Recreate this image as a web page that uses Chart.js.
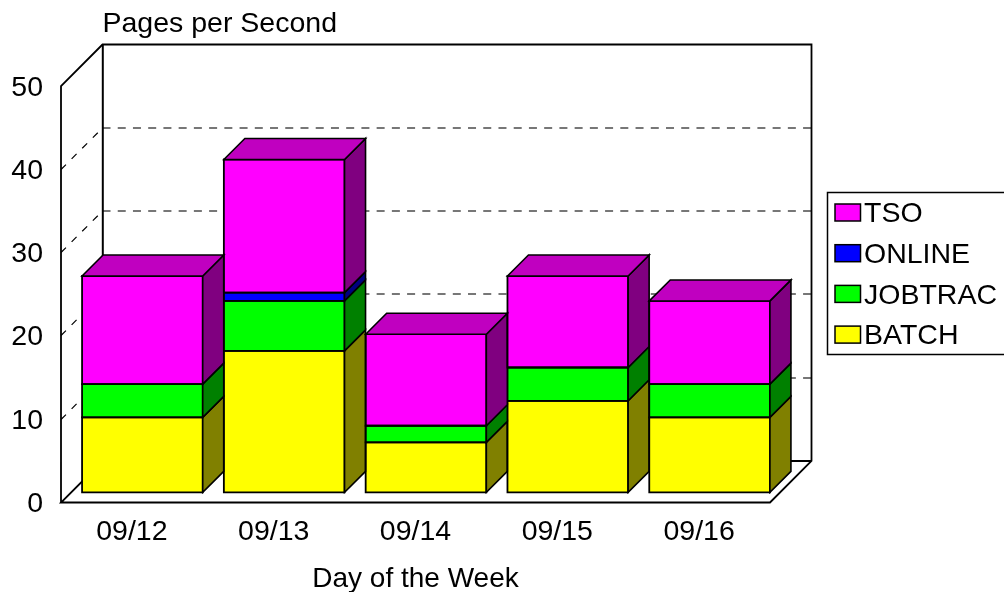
<!DOCTYPE html>
<html>
<head>
<meta charset="utf-8">
<style>html,body{margin:0;padding:0;background:#fff}canvas{display:block}</style>
<script src="https://cdn.jsdelivr.net/npm/chart.js@4/dist/chart.umd.min.js"></script>
</head>
<body>
<canvas id="c" width="1004" height="592"></canvas>
<script>
const categories = ['09/12','09/13','09/14','09/15','09/16'];
const batch   = [9,17,6,11,9];
const jobtrac = [4,6,2,4,4];
const online  = [0,1,0,0,0];
const tso     = [13,16,11,11,10];
const yTicks  = [0,10,20,30,40,50];
const FONT = '"Liberation Sans", Arial, sans-serif';
const FS = 28.5, DEPTH = 41.5, SHIFT = 10, BARD = 21;

const faces = {
  BATCH:{side:'#808000'}, JOBTRAC:{side:'#008000'}, ONLINE:{side:'#000080'}, TSO:{side:'#800080',top:'#c000c0'}
};
function poly(ctx, pts, fill, lw, dash, stroke, close){
  ctx.beginPath();
  pts.forEach((p,i)=> i?ctx.lineTo(p[0],p[1]):ctx.moveTo(p[0],p[1]));
  if(fill||close) ctx.closePath();
  if(fill){ctx.fillStyle=fill;ctx.fill();}
  ctx.lineWidth=lw; ctx.setLineDash(dash||[]); ctx.strokeStyle=stroke||'#000'; ctx.stroke(); ctx.setLineDash([]);
}
const box3d = {
  id:'box3d',
  beforeDatasetsDraw(chart){
    const {ctx,chartArea:a,scales:{y}} = chart;
    const b = a.bottom+0.5, l = a.left, r = a.right, t = a.top;
    ctx.save();
    yTicks.slice(1,-1).forEach(v=>{
      const p = y.getPixelForValue(v);
      const q = Math.round(p-DEPTH+0.35);
      poly(ctx,[[l,q+DEPTH],[l+DEPTH,q]],null,1.2,[7,8],'#000');
      poly(ctx,[[l+DEPTH,q],[r+DEPTH,q]],null,1.8,[8,7.23],'#777');
    });
    const lw=1.8;
    poly(ctx,[[l,b],[l,t],[l+DEPTH,t-DEPTH],[r+DEPTH,t-DEPTH],[r+DEPTH,b-DEPTH],[r,b],[l,b],[l+DEPTH,b-DEPTH],[r+DEPTH,b-DEPTH]],null,lw);
    poly(ctx,[[l+DEPTH+0.3,t-DEPTH],[l+DEPTH+0.3,b-DEPTH]],null,2);
    ctx.restore();
  },
  beforeDatasetDraw(chart){ chart.ctx.save(); chart.ctx.translate(SHIFT+0.5,-SHIFT+0.3); },
  afterDatasetDraw(chart){ chart.ctx.restore(); },
  afterDatasetsDraw(chart){
    const {ctx} = chart;
    ctx.save();
    chart.data.datasets.forEach((ds,i)=>{
      const meta = chart.getDatasetMeta(i), f = faces[ds.label];
      meta.data.forEach(el=>{
        const {x,y,base,width} = el.getProps(['x','y','base','width'],true);
        if(Math.abs(base-y)<0.5) return;
        const R = x+width/2+SHIFT+0.5, L = x-width/2+SHIFT+0.5, T = y-SHIFT+0.3, B = base-SHIFT+0.3;
        poly(ctx,[[L,T],[R,T],[R,B],[L,B]],null,1.8,null,'#000',true);
        poly(ctx,[[R,T],[R+BARD,T-BARD],[R+BARD,B-BARD],[R,B]],f.side,1.6);
        if(f.top) poly(ctx,[[L,T],[L+BARD,T-BARD],[R+BARD,T-BARD],[R,T]],f.top,1.6);
      });
    });
    ctx.restore();
  },
  afterDraw(chart){
    const {ctx} = chart;
    ctx.save();
    ctx.fillStyle='#000'; ctx.font=FS+'px '+FONT; ctx.textAlign='left'; ctx.textBaseline='alphabetic';
    ctx.fillText('Pages per Second',102.5,32);
    // legend
    ctx.strokeStyle='#000'; ctx.lineWidth=1.5;
    ctx.strokeRect(827.5,192.5,180,162);
    const items = chart.data.datasets.slice().reverse();
    items.forEach((ds,i)=>{
      const cy = 213+i*40.7;
      ctx.fillStyle=ds.backgroundColor; ctx.fillRect(835,cy-9,25.5,17);
      ctx.strokeRect(835,cy-9,25.5,17);
      ctx.fillStyle='#000'; ctx.textBaseline='middle';
      ctx.fillText(ds.label,864,cy+1.5);
    });
    ctx.restore();
  }
};
new Chart(document.getElementById('c'),{
  type:'bar',
  data:{
    labels:categories,
    datasets:[
      {label:'BATCH',data:batch,backgroundColor:'#ffff00'},
      {label:'JOBTRAC',data:jobtrac,backgroundColor:'#00ff00'},
      {label:'ONLINE',data:online,backgroundColor:'#0000ff'},
      {label:'TSO',data:tso,backgroundColor:'#ff00ff'}
    ].map(d=>Object.assign(d,{borderWidth:0,clip:false,categoryPercentage:1,barPercentage:0.851}))
  },
  options:{
    responsive:false,animation:false,
    layout:{padding:{top:86,left:0,right:0,bottom:0}},
    plugins:{legend:{display:false},title:{display:false},tooltip:{enabled:false}},
    scales:{
      x:{stacked:true,grid:{display:false},border:{display:false},
        ticks:{color:'#000',font:{family:FONT,size:FS},padding:5,maxRotation:0},
        title:{display:true,text:'Day of the Week',color:'#000',font:{family:FONT,size:28,lineHeight:0.9},padding:0},
        afterFit(s){s.height=90;}},
      y:{stacked:true,min:0,max:50,grid:{display:false},border:{display:false},
        afterBuildTicks(s){s.ticks=yTicks.map(v=>({value:v}));},
        ticks:{color:'#000',font:{family:FONT,size:FS},padding:10,labelOffset:2},
        afterFit(s){s.width=61;}},
      spacer:{position:'right',display:true,grid:{display:false},border:{display:false},ticks:{display:false},
        afterFit(s){s.width=234;}}
    }
  },
  plugins:[box3d]
});
</script>
</body>
</html>
